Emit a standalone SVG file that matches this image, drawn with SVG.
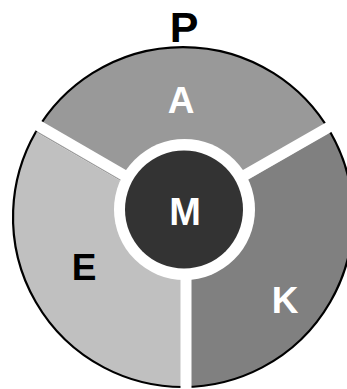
<svg xmlns="http://www.w3.org/2000/svg" width="347" height="389" viewBox="0 0 347 389">
<style>
.arc{fill:none;stroke:#000;stroke-width:2.2}
.sep{stroke:#fff;stroke-width:11;fill:none}
.lbl{font-family:"Liberation Sans",Arial,sans-serif;font-weight:bold;text-anchor:middle}
</style>
<rect width="347" height="389" fill="#fff"/>
<g id="sector-A">
<path d="M183,217 L35.8,132 A170,170 0 0 1 330.2,132 Z" fill="#999999"/>
<path class="arc" d="M35.8,132 A170,170 0 0 1 330.2,132"/>
<text class="lbl" x="181" y="113" font-size="37" fill="#fff">A</text>
</g>
<g id="sector-K">
<path d="M183,217 L330.2,132 A170,170 0 0 1 183,387 Z" fill="#808080"/>
<path class="arc" d="M330.2,132 A170,170 0 0 1 183,387"/>
<text class="lbl" x="285" y="313" font-size="37" fill="#fff">K</text>
</g>
<g id="sector-E">
<path d="M183,217 L183,387 A170,170 0 0 1 35.8,132 Z" fill="#c0c0c0"/>
<path class="arc" d="M183,387 A170,170 0 0 1 35.8,132"/>
<text class="lbl" x="84" y="280" font-size="37" fill="#000">E</text>
</g>
<g id="separators">
<line class="sep" x1="186" y1="240" x2="186" y2="395"/>
<line class="sep" x1="184" y1="210" x2="20" y2="115"/>
<line class="sep" x1="184" y1="210" x2="350" y2="115"/>
</g>
<g id="center-M">
<circle cx="184.5" cy="209.5" r="70.5" fill="#fff"/>
<circle cx="184" cy="209.5" r="59" fill="#333333"/>
<text class="lbl" x="185" y="225" font-size="38" fill="#fff">M</text>
</g>
<g id="title-P">
<text class="lbl" x="184" y="42" font-size="43" fill="#000">P</text>
</g>
</svg>
